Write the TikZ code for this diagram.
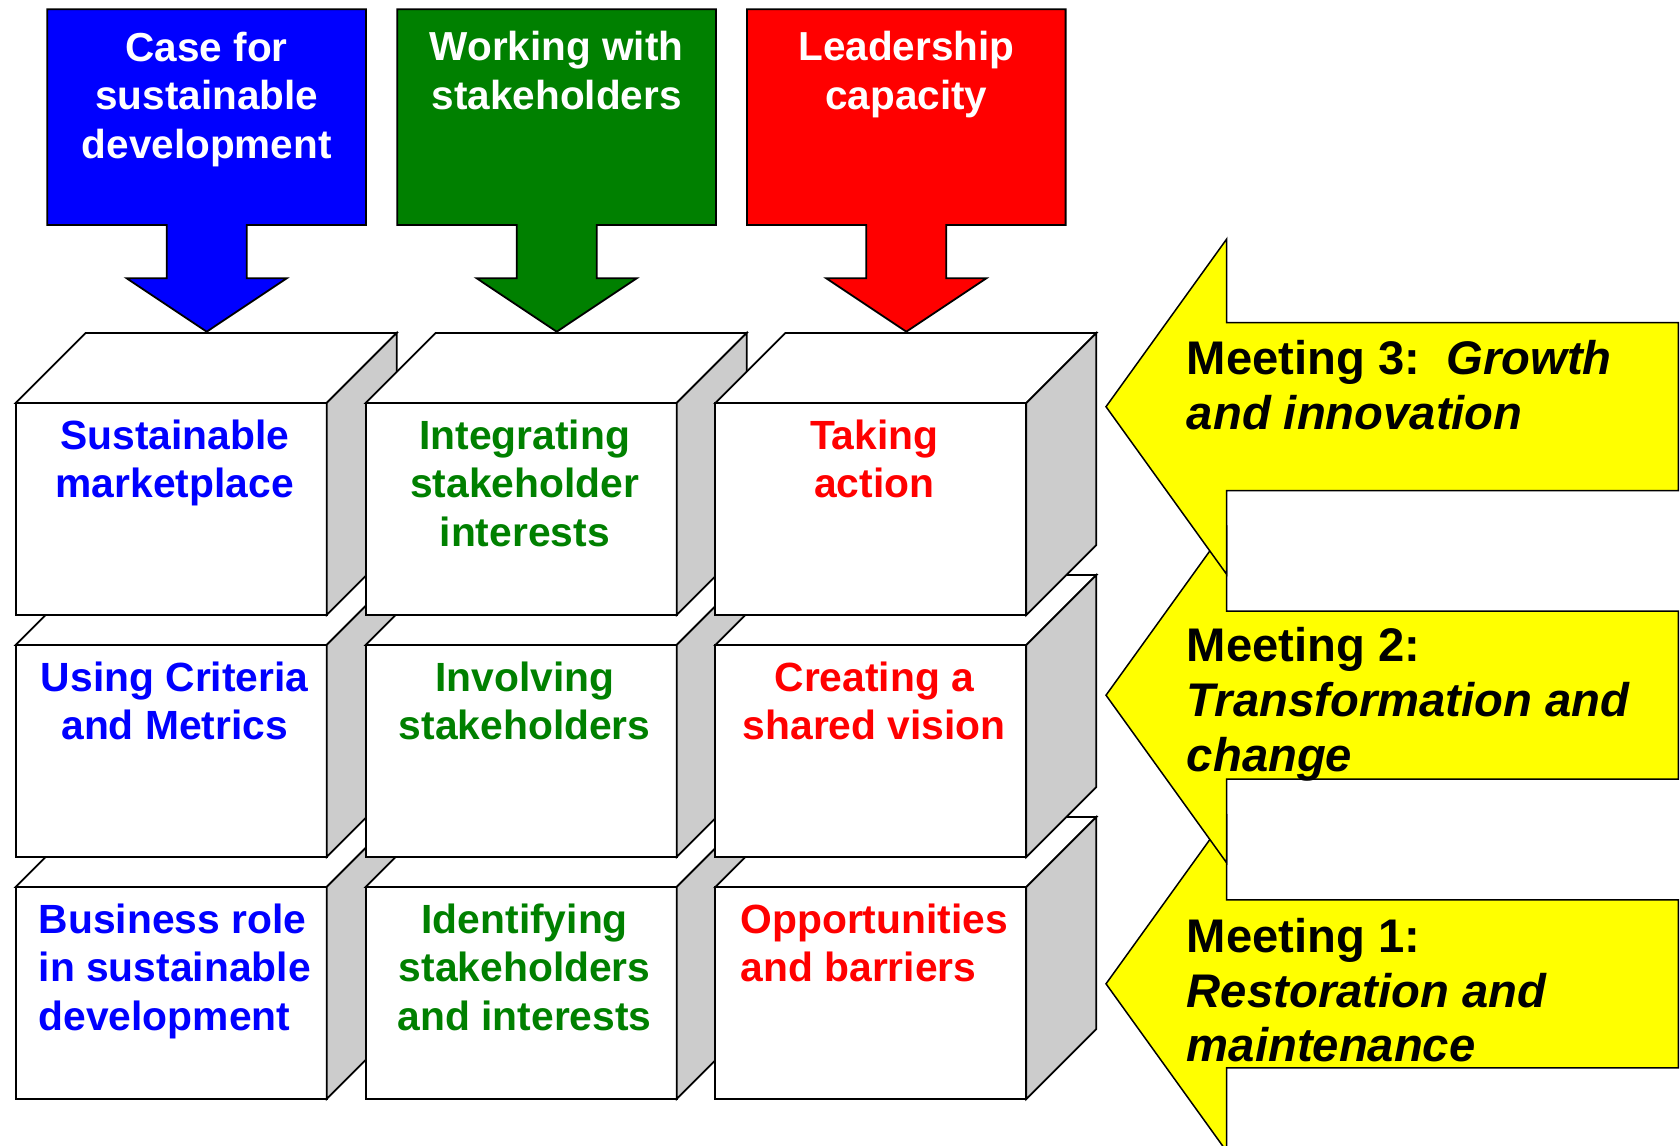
\documentclass[tikz,border=0pt]{standalone}
\usepackage{fontspec}
\setmainfont{Liberation Sans}
\definecolor{cblue}{RGB}{0,0,255}
\definecolor{cgreen}{RGB}{0,128,0}
\definecolor{cred}{RGB}{255,0,0}
\definecolor{cyel}{RGB}{255,255,0}
\definecolor{sidegray}{RGB}{204,204,204}
\tikzset{
  outl/.style={draw=black, line width=1.8pt, line join=miter},
  yout/.style={draw=black, line width=1.5pt, line join=miter, fill=cyel},
  cubetxt/.style={font=\fontsize{40.8}{48.5}\selectfont\bfseries, align=center, anchor=base, inner sep=0pt},
  cubetxtl/.style={cubetxt, align=left},
  hdrtxt/.style={font=\fontsize{40.5}{48.5}\selectfont\bfseries, align=center, anchor=base, inner sep=0pt, text=white},
  meettxt/.style={font=\fontsize{47.2}{54.8}\selectfont\bfseries, align=left, anchor=base west, inner sep=0pt, text=black}
}
\newcommand\mkcubebox[2]{%
  \filldraw[outl, fill=white] (#1,#2) rectangle ++(311,212);
  \filldraw[outl, fill=white] (#1,#2) -- ++(70,-70) -- ++(311,0) -- ++(-70,70) -- cycle;
  \filldraw[outl, fill=sidegray] (#1+311,#2) -- ++(70,-70) -- ++(0,212) -- ++(-70,70) -- cycle;
}
\newcommand\mkhdrarrow[2]{%
  \begin{scope}[xshift=#1pt]
  \filldraw[outl, fill=#2] (47.3,9.3) -- (366,9.3) -- (366,225) -- (246.7,225) -- (246.7,278.3)
     -- (286.7,278.3) -- (206.7,331.7) -- (126.7,278.3) -- (166.7,278.3) -- (166.7,225)
     -- (47.3,225) -- cycle;
  \end{scope}
}
\newcommand\mkyelarrow[1]{%
  \filldraw[yout] (1678.3,#1-84) -- (1226.7,#1-84) -- (1226.7,#1-167.7) -- (1106,#1)
     -- (1226.7,#1+167.7) -- (1226.7,#1+84) -- (1678.3,#1+84) -- cycle;
}
\begin{document}
\begin{tikzpicture}[x=1pt,y=-1pt]
\clip (0,0) rectangle (1680,1145);
\fill[white] (0,0) rectangle (1680,1145);
% header arrows
\mkhdrarrow{0}{cblue}
\mkhdrarrow{350}{cgreen}
\mkhdrarrow{699.6}{cred}
% (node base = baseline of the last line)
\node[hdrtxt] (h1) at (206.7,158) {Case for\\sustainable\\development};
\node[hdrtxt] (h2) at (556.7,109.5) {Working with\\stakeholders};
\node[hdrtxt] (h3) at (906.3,109.5) {Leadership\\capacity};
% cubes, bottom row first
\mkcubebox{15.7}{887}
\mkcubebox{365.7}{887}
\mkcubebox{715.3}{887}
\mkcubebox{15.7}{645}
\mkcubebox{365.7}{645}
\mkcubebox{715.3}{645}
\mkcubebox{15.7}{403}
\mkcubebox{365.7}{403}
\mkcubebox{715.3}{403}
% cube texts
\node[cubetxt, text=cblue] (b11) at (174.7,497.8) {Sustainable\\marketplace};
\node[cubetxt, text=cgreen] (b12) at (524.7,546.3) {Integrating\\stakeholder\\interests};
\node[cubetxt, text=cred] (b13) at (874.3,497.8) {Taking\\action};
\node[cubetxt, text=cblue] (b21) at (174.7,739.8) {Using Criteria\\and Metrics};
\node[cubetxt, text=cgreen] (b22) at (524.7,739.8) {Involving\\stakeholders};
\node[cubetxt, text=cred] (b23) at (874.3,739.8) {Creating a\\shared vision};
\node[cubetxtl, text=cblue] (b31) at (174.7,1030.3) {Business role\\in sustainable\\development};
\node[cubetxt, text=cgreen] (b32) at (524.7,1030.3) {Identifying\\stakeholders\\and interests};
\node[cubetxtl, text=cred] (b33) at (874.3,981.8) {Opportunities\\and barriers};
% yellow arrows, meeting 1 first
\mkyelarrow{983.8}
\mkyelarrow{695.2}
\mkyelarrow{406.7}
\node[meettxt] (m3) at (1186.7,429.1) {Meeting 3:\ \ \textit{Growth}\\\textit{and innovation}};
\node[meettxt] (m2) at (1186.7,771.3) {Meeting 2:\\\textit{Transformation and}\\\textit{change}};
\node[meettxt] (m1) at (1186.7,1061.8) {Meeting 1:\\\textit{Restoration and}\\\textit{maintenance}};
\end{tikzpicture}
\end{document}
